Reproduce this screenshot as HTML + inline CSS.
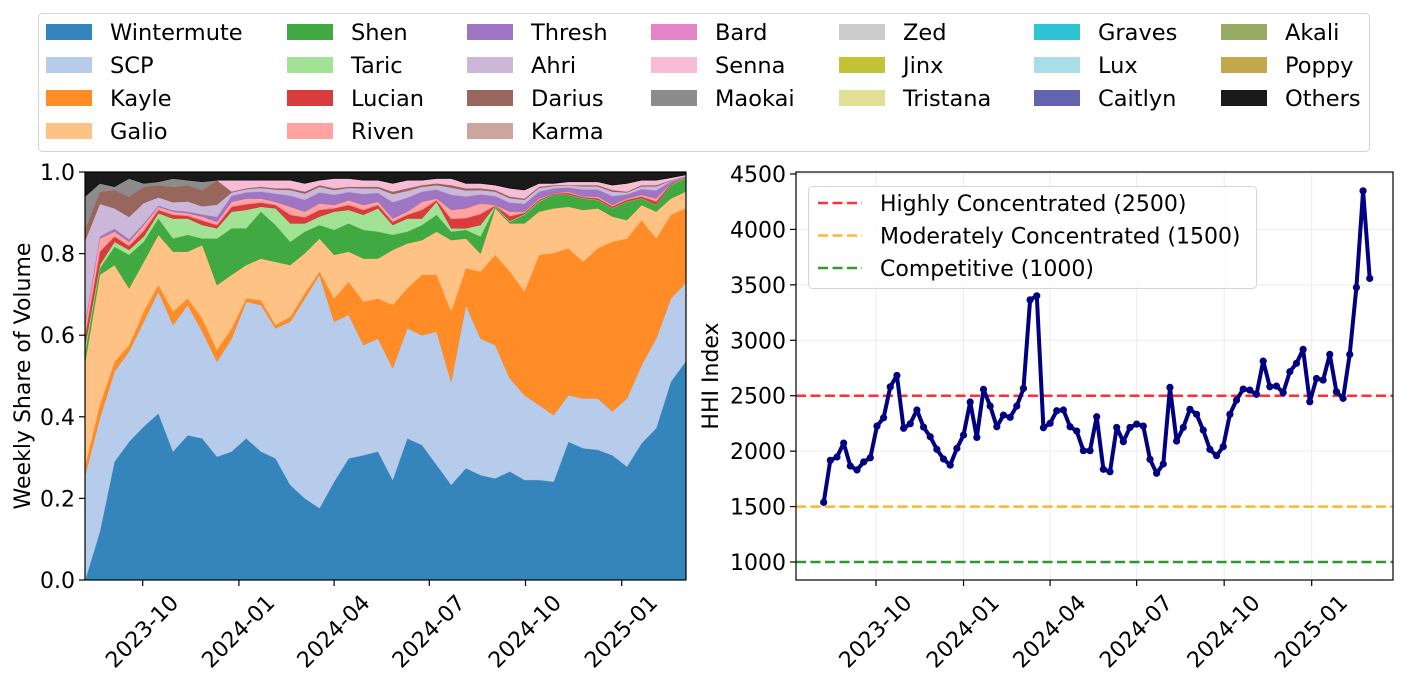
<!DOCTYPE html>
<html><head><meta charset="utf-8">
<style>
body{margin:0;background:#fff;width:1404px;height:681px;overflow:hidden;font-family:"DejaVu Sans","Liberation Sans",sans-serif;}
svg text{font-family:"DejaVu Sans","Liberation Sans",sans-serif;fill:#000;}
</style></head>
<body>
<svg id="chart" width="1404" height="681" viewBox="0 0 1404 681" xmlns="http://www.w3.org/2000/svg">
<g id="legend"></g>
<g id="left"></g>
<g id="right"></g>
</svg>
<script>
// ---- data ----
const startDay = -55; // days relative to 2023-10-01
const tickLabels = ["2023-10","2024-01","2024-04","2024-07","2024-10","2025-01"];
const tickDays = [0,92,183,274,366,458];
const shareYTicks = [0.0,0.2,0.4,0.6,0.8,1.0];
const hhiYTicks = [1000,1500,2000,2500,3000,3500,4000,4500];

const wintermute=[0,.118,.290,.339,.376,.408,.315,.355,.347,.302,.315,.347,.315,.298,.233,.200,.176,.241,.298,.306,.315,.245,.347,.331,.282,.233,.274,.257,.249,.266,.245,.245,.241,.339,.323,.319,.306,.278,.335,.372,.486,.535];
const scp=[.257,.278,.221,.221,.257,.299,.310,.319,.262,.233,.277,.335,.359,.319,.400,.490,.572,.392,.352,.270,.277,.274,.270,.269,.327,.253,.400,.335,.327,.228,.208,.184,.163,.114,.122,.126,.107,.167,.192,.220,.204,.192];
const kayle=[.025,.033,.024,.016,.025,.016,.033,.016,.032,.029,.025,.008,.012,.008,.012,.013,.008,.057,.081,.106,.098,.155,.098,.148,.139,.172,.090,.164,.221,.262,.254,.368,.397,.360,.335,.368,.416,.392,.355,.245,.205,.184];
const galio=[.253,.319,.237,.139,.122,.123,.147,.115,.180,.159,.131,.082,.102,.155,.127,.098,.081,.107,.074,.106,.098,.135,.110,.085,.106,.175,.073,.044,.114,.118,.167,.106,.110,.102,.127,.098,.062,.045,.037,.066,.040,.041];
const shen=[.025,.016,.045,.082,.049,.040,.032,.041,.016,.114,.114,.090,.115,.090,.057,.053,.033,.061,.069,.070,.066,.037,.029,.037,.041,.021,.021,.042,.004,.004,.021,.024,.033,.029,.028,.020,.020,.045,.016,.016,.033,.032];
const taric=[.016,.008,.012,.012,.013,.013,.049,.040,.033,.025,.041,.045,.012,.041,.045,.020,.021,.045,.033,.037,.057,.024,.032,.016,.032,.008,.004,.028,.002,.002,.002,.002,.001,.001,.001,.001,.001,.001,.001,.001,.001,.001];
const lucian=[.025,.033,.013,.010,.014,.008,.009,.007,.011,.008,.012,.014,.010,.008,.021,.015,.016,.008,.012,.012,.008,.008,.009,.021,.004,.023,.025,.027,.001,.012,.003,.003,.002,.004,.002,.004,.004,.004,.004,.008,.002,.001];
const riven=[.024,.032,.012,.010,.014,.008,.008,.006,.010,.008,.012,.014,.010,.008,.020,.014,.016,.008,.012,.012,.008,.008,.008,.020,.004,.022,.024,.026,.001,.011,.003,.003,.001,.003,.002,.004,.003,.003,.004,.007,.001,.001];
const thresh=[.007,.005,.007,.006,.004,.003,.003,.004,.005,.012,.015,.015,.017,.020,.027,.029,.027,.025,.020,.027,.022,.040,.034,.025,.022,.037,.029,.022,.022,.022,.019,.017,.012,.010,.017,.017,.022,.010,.014,.020,.005,.002];
const ahri=[.200,.080,.050,.055,.050,.020,.020,.025,.020,.030,.008,.008,.009,.010,.014,.015,.014,.012,.010,.014,.011,.020,.017,.012,.011,.018,.015,.011,.011,.011,.010,.009,.006,.005,.008,.008,.011,.005,.007,.010,.002,.001];
const darius=[.030,.030,.045,.050,.040,.030,.038,.040,.040,.060,.002,.002,.003,.003,.004,.005,.004,.004,.003,.004,.004,.006,.006,.004,.004,.006,.005,.004,.004,.004,.003,.003,.002,.001,.003,.003,.004,.002,.003,.003,.001,0];
const senna=[0,0,0,0,0,0,0,0,0,0,.028,.020,.016,.020,.020,.020,.012,.024,.020,.016,.016,.020,.020,.012,.012,.016,.012,.012,.012,.020,.021,.008,.004,.008,.008,.008,.012,.020,.012,.012,.006,.003];
const maokai=[.078,.020,.008,.044,.008,.008,.020,.012,.020,0,0,0,0,0,0,0,0,0,0,0,0,0,0,0,0,0,0,0,0,0,0,0,0,0,0,0,0,0,0,0,0,0];
const others=[.060,.028,.036,.016,.028,.024,.016,.020,.024,.020,.020,.020,.020,.020,.020,.028,.020,.016,.016,.020,.020,.028,.020,.020,.016,.016,.028,.028,.032,.040,.044,.028,.028,.024,.024,.024,.032,.028,.020,.020,.014,.007];

const hhi=[1538,1917,1947,2073,1866,1830,1902,1940,2226,2301,2580,2683,2206,2247,2371,2217,2130,2016,1929,1874,2025,2145,2443,2124,2557,2407,2220,2325,2305,2407,2566,3365,3401,2211,2251,2364,2371,2220,2181,2004,2004,2310,1836,1814,2214,2085,2214,2244,2226,1926,1800,1884,2575,2091,2214,2377,2332,2190,2016,1959,2040,2332,2461,2560,2551,2512,2812,2581,2587,2527,2716,2792,2918,2445,2656,2641,2873,2536,2476,2873,3477,4348,3558];

const legendNames=["Wintermute","SCP","Kayle","Galio","Shen","Taric","Lucian","Riven","Thresh","Ahri","Darius","Karma","Bard","Senna","Maokai","Zed","Jinx","Tristana","Graves","Lux","Caitlyn","Akali","Poppy","Others"];
const legendColors=["#1f77b4","#aec7e8","#ff7f0e","#ffbb78","#2ca02c","#98df8a","#d62728","#ff9896","#9467bd","#c5b0d5","#8c564b","#c49c94","#e377c2","#f7b6d2","#7f7f7f","#c7c7c7","#bcbd22","#dbdb8d","#17becf","#9edae5","#5254a3","#8ca252","#bd9e39","#000000"];

const NS="http://www.w3.org/2000/svg";
function mk(tag,attrs,parent,txt){const e=document.createElementNS(NS,tag);for(const k in attrs)e.setAttribute(k,attrs[k]);if(txt!==undefined)e.textContent=txt;parent.appendChild(e);return e;}

// ---- legend ----
const L=document.getElementById('legend');
const box=mk('rect',{x:38.5,y:13.5,width:1331,height:138,rx:4,fill:'#fff',stroke:'#d5d5d5'},L);


const colSw=[46,287,467,651,839,1034,1221];
const colRows=[[0,1,2,3],[4,5,6,7],[8,9,10,11],[12,13,14],[15,16,17],[18,19,20],[21,22,23]];
colRows.forEach((rows,c)=>rows.forEach((idx,r)=>{
  const g=mk('g',{},L);
  
  
  const y=24+r*33;
  mk('rect',{x:colSw[c],y:y,width:46,height:16,fill:legendColors[idx],'fill-opacity':0.9},g);
  mk('text',{x:colSw[c]+64,y:y+16,'font-size':22.5},g,legendNames[idx]);
}));

// ---- left chart ----
const LP={l:85,r:686,t:172,b:580};
const xL=d=>142.7+d*1.0459;
const yL=v=>LP.b-v*(LP.b-LP.t);
const G=document.getElementById('left');
const stackSeries=[["wintermute",wintermute,"#1f77b4"],["scp",scp,"#aec7e8"],["kayle",kayle,"#ff7f0e"],["galio",galio,"#ffbb78"],["shen",shen,"#2ca02c"],["taric",taric,"#98df8a"],["lucian",lucian,"#d62728"],["riven",riven,"#ff9896"],["thresh",thresh,"#9467bd"],["ahri",ahri,"#c5b0d5"],["darius",darius,"#8c564b"],["senna",senna,"#f7b6d2"],["maokai",maokai,"#7f7f7f"],["others",others,"#000000"]];
const n=wintermute.length;
let base=new Array(n).fill(0);
const xs=[];for(let i=0;i<n;i++)xs.push(xL(startDay+14*i));
stackSeries.forEach(([nm,arr,col])=>{
  const top=base.map((b,i)=>b+arr[i]);
  let d='M'+xs.map((x,i)=>x.toFixed(1)+','+yL(top[i]).toFixed(1)).join('L');
  for(let i=n-1;i>=0;i--)d+='L'+xs[i].toFixed(1)+','+yL(base[i]).toFixed(1);
  d+='Z';
  const p=mk('path',{d:d,fill:col,'fill-opacity':0.9,stroke:col,'stroke-opacity':0.9,'stroke-width':0.5},G);
  
  
  base=top;
});
const lf=mk('rect',{x:LP.l,y:LP.t,width:LP.r-LP.l,height:LP.b-LP.t,fill:'none',stroke:'#000','stroke-width':1.2},G);


shareYTicks.forEach(v=>{
  const y=yL(v);
  mk('line',{x1:LP.l-6,x2:LP.l,y1:y,y2:y,stroke:'#000','stroke-width':1.2},G);
  const t=mk('text',{x:LP.l-10,y:y+8,'font-size':22,'text-anchor':'end'},G,v.toFixed(1));
  
  
});
tickDays.forEach((d,i)=>{
  const x=xL(d);
  mk('line',{x1:x,x2:x,y1:LP.b,y2:LP.b+6,stroke:'#000','stroke-width':1.2},G);
  const t=mk('text',{x:x,y:632,'font-size':22,'text-anchor':'middle','dominant-baseline':'central',transform:`rotate(-45 ${x} 632)`},G,tickLabels[i]);
  
  
});
const yt=mk('text',{x:30,y:376,'font-size':22,'text-anchor':'middle',transform:'rotate(-90 30 376)'},G,'Weekly Share of Volume');



// ---- right chart ----
const RP={l:796,r:1393,t:172,b:580};
const xR=d=>876+d*0.9513;
const yR=v=>562-(v-1000)*0.11086;
const R=document.getElementById('right');
hhiYTicks.forEach(v=>{
  const y=yR(v);
  mk('line',{x1:RP.l,x2:RP.r,y1:y,y2:y,stroke:'#ebebeb','stroke-width':1},R);
  mk('line',{x1:RP.l-6,x2:RP.l,y1:y,y2:y,stroke:'#000','stroke-width':1.2},R);
  const t=mk('text',{x:RP.l-10,y:y+8,'font-size':22,'text-anchor':'end'},R,String(v));
  
  
});
tickDays.forEach((d,i)=>{
  const x=xR(d);
  mk('line',{x1:x,x2:x,y1:RP.t,y2:RP.b,stroke:'#ebebeb','stroke-width':1},R);
  mk('line',{x1:x,x2:x,y1:RP.b,y2:RP.b+6,stroke:'#000','stroke-width':1.2},R);
  const t=mk('text',{x:x,y:632,'font-size':22,'text-anchor':'middle','dominant-baseline':'central',transform:`rotate(-45 ${x} 632)`},R,tickLabels[i]);
  
  
});
const thresholds=[[2500,'#ff0000','threshold-high'],[1500,'#ffa500','threshold-moderate'],[1000,'#008000','threshold-competitive']];
thresholds.forEach(([v,c,nm])=>{
  const l=mk('line',{x1:RP.l,x2:RP.r,y1:yR(v),y2:yR(v),stroke:c,'stroke-opacity':0.8,'stroke-width':2.5,'stroke-dasharray':'10,4.5'},R);
  
  
});
const pts=hhi.map((v,i)=>[xR(startDay+7*i),yR(v)]);
const line=mk('polyline',{points:pts.map(p=>p[0].toFixed(1)+','+p[1].toFixed(1)).join(' '),fill:'none',stroke:'#000080','stroke-width':4,'stroke-linejoin':'round'},R);


pts.forEach(p=>{
  const c=mk('circle',{cx:p[0],cy:p[1],r:3.6,fill:'#000080'},R);
  
  
});
const rf=mk('rect',{x:RP.l,y:RP.t,width:RP.r-RP.l,height:RP.b-RP.t,fill:'none',stroke:'#000','stroke-width':1.2},R);


const yt2=mk('text',{x:718,y:376,'font-size':22,'text-anchor':'middle',transform:'rotate(-90 718 376)'},R,'HHI Index');


// legend inside right
const RL=mk('g',{},R);


mk('rect',{x:808.5,y:186.5,width:448,height:102,rx:4,fill:'#fff','fill-opacity':0.8,stroke:'#d5d5d5'},RL);
const legLabels=['Highly Concentrated (2500)','Moderately Concentrated (1500)','Competitive (1000)'];
thresholds.forEach(([v,c],i)=>{
  const y=203+i*32.5;
  const g=mk('g',{},RL);
  
  
  mk('line',{x1:818,x2:862,y1:y,y2:y,stroke:c,'stroke-opacity':0.8,'stroke-width':2.5,'stroke-dasharray':'10,4.5'},g);
  mk('text',{x:880,y:y+8,'font-size':22},g,legLabels[i]);
});
</script>
</body></html>
